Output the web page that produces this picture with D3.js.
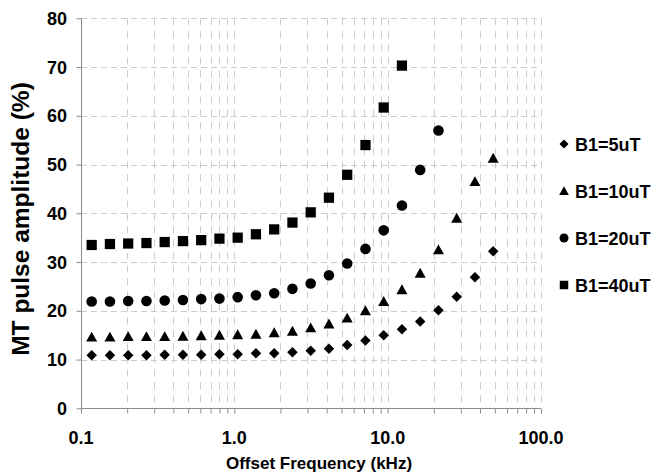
<!DOCTYPE html>
<html><head><meta charset="utf-8">
<script src="https://cdn.jsdelivr.net/npm/d3@7"></script>
<style>
html,body{margin:0;padding:0;background:#fff;}
svg{display:block;font-family:"Liberation Sans",Arial,sans-serif;font-weight:bold;}
</style></head>
<body><svg id="chart" width="657" height="474"></svg>
<script>
// Offset frequencies (kHz)
const freqs = [0.1174,0.1544,0.2031,0.2672,0.3514,0.4622,0.6079,0.7996,1.0517,1.3833,1.8195,2.3932,3.1477,4.1402,5.4456,7.1625,9.4209,12.391,16.298,21.437,28.196,37.086,48.78];
const b1_5  = [10.9,10.9,10.9,10.9,11.0,11.0,11.0,11.1,11.1,11.3,11.3,11.5,11.8,12.2,13.0,13.9,15.0,16.2,17.8,20.1,22.9,26.9,32.2];
const b1_10 = [14.6,14.6,14.7,14.7,14.7,14.8,14.9,15.0,15.1,15.2,15.5,15.8,16.5,17.3,18.5,20.0,21.9,24.3,27.7,32.5,39.0,46.5,51.3];
const b1_20 = [21.9,21.9,22.0,22.0,22.1,22.2,22.4,22.5,22.8,23.2,23.6,24.5,25.6,27.3,29.7,32.7,36.5,41.6,48.9,57.0];
const b1_40 = [33.5,33.7,33.8,33.9,34.1,34.3,34.5,34.8,35.0,35.7,36.7,38.1,40.2,43.2,47.9,54.0,61.7,70.3];
const seriesNames = ["B1=5uT","B1=10uT","B1=20uT","B1=40uT"];
const xTickLabels = ["0.1","1.0","10.0","100.0"];
const yTicks = [0,10,20,30,40,50,60,70,80];

const diamond = {draw(ctx,size){const r=Math.sqrt(size/2);ctx.moveTo(0,-r);ctx.lineTo(r,0);ctx.lineTo(0,r);ctx.lineTo(-r,0);ctx.closePath();}};
const triangle = {draw(ctx,size){const w=Math.sqrt(size*2/0.9);const h=w*0.9;ctx.moveTo(0,-h*0.55);ctx.lineTo(w/2,h*0.45);ctx.lineTo(-w/2,h*0.45);ctx.closePath();}};
const series = [
  {name:seriesNames[0], values:b1_5,  type:diamond,        size:55, lsize:42},
  {name:seriesNames[1], values:b1_10, type:triangle,       size:55, lsize:42},
  {name:seriesNames[2], values:b1_20, type:d3.symbolCircle, size:88, lsize:64},
  {name:seriesNames[3], values:b1_40, type:d3.symbolSquare, size:105, lsize:72}
];

const svg = d3.select("#chart");
const m = {left:81, right:541, top:18.3, bottom:408.3};
const x = d3.scaleLog().domain([0.1,100]).range([m.left,m.right]);
const y = d3.scaleLinear().domain([0,80]).range([m.bottom,m.top]);

const logTicks = x.ticks(); // 0.1..100 including 2..9
// vertical gridlines
svg.append("g").selectAll("line").data(logTicks.filter(d=>d>0.1+1e-9)).join("line")
  .attr("x1",d=>Math.round(x(d))+0.5).attr("x2",d=>Math.round(x(d))+0.5)
  .attr("y1",m.top).attr("y2",m.bottom)
  .attr("stroke","#cccccc").attr("stroke-width",1).attr("stroke-dasharray","7,6");
// horizontal gridlines
svg.append("g").selectAll("line").data(yTicks.filter(d=>d>0)).join("line")
  .attr("x1",m.left).attr("x2",m.right)
  .attr("y1",d=>Math.round(y(d))+0.5).attr("y2",d=>Math.round(y(d))+0.5)
  .attr("stroke","#cccccc").attr("stroke-width",1).attr("stroke-dasharray","6,4");

// axes
const xAxis = d3.axisBottom(x).tickValues(logTicks).tickSize(5).tickFormat("");
const gx = svg.append("g").attr("transform",`translate(0,${Math.round(m.bottom)+0.5})`).call(xAxis);
gx.select(".domain").attr("stroke","#8c8c8c").attr("d",`M${m.left},0H${m.right}`);
gx.selectAll(".tick line").attr("stroke","#8c8c8c");
const yAxis = d3.axisLeft(y).tickValues(yTicks).tickSize(5).tickFormat("");
const gy = svg.append("g").attr("transform",`translate(${Math.round(m.left)+0.5},0)`).call(yAxis);
gy.select(".domain").attr("stroke","#8c8c8c").attr("d",`M0,${m.top}V${m.bottom}`);
gy.selectAll(".tick line").attr("stroke","#8c8c8c");

// tick labels
svg.append("g").selectAll("text").data([0.1,1,10,100]).join("text")
  .attr("x",d=>x(d)).attr("y",443.5).attr("text-anchor","middle")
  .attr("font-size",18).attr("fill","#000").text((d,i)=>xTickLabels[i]);
svg.append("g").selectAll("text").data(yTicks).join("text")
  .attr("x",67).attr("y",d=>y(d)+6.5).attr("text-anchor","end")
  .attr("font-size",18).attr("fill","#000").text(d=>d);

// axis titles
svg.append("text").attr("x",319).attr("y",468.5).attr("text-anchor","middle")
  .attr("font-size",17).text("Offset Frequency (kHz)");
svg.append("text").attr("transform","translate(29,219) rotate(-90)").attr("text-anchor","middle")
  .attr("font-size",24.5).text("MT pulse amplitude (%)");

// points
series.forEach(s=>{
  const sym = d3.symbol().type(s.type).size(s.size);
  svg.append("g").selectAll("path").data(s.values).join("path")
    .attr("transform",(d,i)=>`translate(${x(freqs[i])},${y(d)})`)
    .attr("d",sym).attr("fill","#000");
});

// legend
const lg = svg.append("g");
series.forEach((s,i)=>{
  const cy = 144 + i*47;
  lg.append("path").attr("transform",`translate(564,${cy})`)
    .attr("d",d3.symbol().type(s.type).size(s.lsize)).attr("fill","#000");
  lg.append("text").attr("x",575).attr("y",cy+6.5).attr("font-size",18).text(s.name);
});
</script></body></html>
